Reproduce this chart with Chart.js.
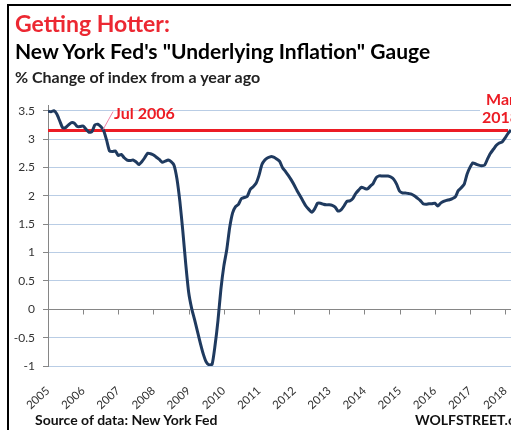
<!DOCTYPE html>
<html>
<head>
<meta charset="utf-8">
<script src="https://cdn.jsdelivr.net/npm/chart.js@4"></script>
<style>
  html, body { margin: 0; padding: 0; background: #fff; }
  #wrap { position: relative; width: 511px; height: 430px; overflow: hidden; font-family: Lato, "Open Sans", sans-serif; }
  #frame { position: absolute; left: 7px; top: 4px; width: 520px; height: 440px; border-left: 2px solid #000; border-top: 2px solid #000; }
  canvas { position: absolute; left: 0; top: 0; }
  .txt { position: absolute; white-space: nowrap; line-height: 1; font-weight: bold; }
  #t1 { left: 15px; top: 12px; font-size: 23px; color: #ec2832; }
  #t2 { left: 15px; top: 40px; font-size: 21px; color: #000; }
  #t3 { left: 15px; top: 69px; font-size: 16px; color: #222; }
  #src { left: 35px; top: 412.5px; font-size: 14px; color: #111; }
  #brand { left: 415px; top: 412.5px; font-size: 14px; color: #111; }
</style>
</head>
<body>
<div id="wrap">
  <div id="frame"></div>
  <canvas id="gauge" width="511" height="430"></canvas>
  <div class="txt" id="t1">Getting Hotter:</div>
  <div class="txt" id="t2">New York Fed's "Underlying Inflation" Gauge</div>
  <div class="txt" id="t3">% Change of index from a year ago</div>
  <div class="txt" id="src">Source of data: New York Fed</div>
  <div class="txt" id="brand">WOLFSTREET.com</div>
</div>
<script>
document.addEventListener("DOMContentLoaded", function() {
  // year labels on the x axis, one per January
  const years = [2005, 2006, 2007, 2008, 2009, 2010, 2011, 2012, 2013, 2014, 2015, 2016, 2017, 2018];

  // monthly readings, Jan 2005 .. Mar 2018 (% change year over year)
  const gauge = [
    3.49, 3.48, 3.50, 3.44, 3.32, 3.20, 3.20, 3.25, 3.29, 3.28, 3.22, 3.22, // 2005
    3.23, 3.17, 3.12, 3.13, 3.25, 3.26, 3.22, 3.15, 2.98, 2.79, 2.78, 2.79, // 2006
    2.71, 2.73, 2.67, 2.63, 2.62, 2.63, 2.60, 2.55, 2.60, 2.67, 2.75, 2.74, // 2007
    2.72, 2.68, 2.64, 2.59, 2.61, 2.63, 2.60, 2.54, 2.30, 1.90, 1.38, 0.80, // 2008
    0.30, 0.02, -0.18, -0.39, -0.60, -0.79, -0.93, -0.98, -0.97, -0.64, -0.20, 0.35, // 2009
    0.76, 1.05, 1.44, 1.70, 1.81, 1.85, 1.95, 1.97, 1.99, 2.11, 2.16, 2.22, // 2010
    2.36, 2.55, 2.63, 2.67, 2.69, 2.68, 2.65, 2.61, 2.50, 2.43, 2.36, 2.28, // 2011
    2.19, 2.09, 2.00, 1.91, 1.82, 1.76, 1.71, 1.77, 1.87, 1.87, 1.85, 1.84, // 2012
    1.84, 1.83, 1.80, 1.73, 1.75, 1.82, 1.90, 1.91, 1.95, 2.04, 2.10, 2.15, // 2013
    2.13, 2.12, 2.17, 2.22, 2.32, 2.35, 2.35, 2.35, 2.35, 2.33, 2.29, 2.20, // 2014
    2.08, 2.05, 2.05, 2.04, 2.03, 2.00, 1.96, 1.92, 1.86, 1.85, 1.86, 1.86, // 2015
    1.87, 1.82, 1.87, 1.90, 1.92, 1.93, 1.95, 1.98, 2.09, 2.14, 2.20, 2.38, // 2016
    2.50, 2.58, 2.56, 2.54, 2.53, 2.54, 2.65, 2.75, 2.82, 2.89, 2.93, 2.95, // 2017
    3.02, 3.10, 3.16                                                        // 2018
  ];

  // the red line: Jul 2006 level carried across to Mar 2018
  const refLevel = 3.15;
  const refSpan = [0, 157];
  const refLabels = ["Jul 2006", "Mar", "2018"];
  const refMonths = [18.8, 158];

  const yTicks = { min: -1, max: 3.6, step: 0.5 };

  const red = '#ec1c24';
  const navy = '#1f3a5f';

  const gaugePoints = gauge.map((v, i) => ({ x: i, y: v }));
  const refPoints = refSpan.map(m => ({ x: m, y: refLevel }));

  // gray axis line through zero with year tick marks
  const zeroAxis = {
    id: 'zeroAxis',
    beforeDatasetsDraw(chart) {
      const { ctx, chartArea, scales: { x, y } } = chart;
      const y0 = Math.round(y.getPixelForValue(0)) + 0.5;
      ctx.save();
      ctx.strokeStyle = '#868686';
      ctx.lineWidth = 1;
      ctx.beginPath();
      ctx.moveTo(chartArea.left, y0);
      ctx.lineTo(chartArea.right, y0);
      x.ticks.forEach(t => {
        const px = Math.round(x.getPixelForValue(t.value)) + 0.5;
        ctx.moveTo(px, y0);
        ctx.lineTo(px, y0 + 5);
      });
      ctx.stroke();
      ctx.restore();
    }
  };

  // "Jul 2006" and "Mar 2018" notes on the red line
  const refNotes = {
    id: 'refNotes',
    afterDatasetsDraw(chart) {
      const { ctx, scales: { x, y } } = chart;
      const ly = y.getPixelForValue(refLevel);
      const jx = x.getPixelForValue(refMonths[0]);
      const mx = x.getPixelForValue(refMonths[1]);
      ctx.save();
      ctx.strokeStyle = '#f27fa4';
      ctx.lineWidth = 1;
      ctx.beginPath();
      ctx.moveTo(jx, ly - 1);
      ctx.lineTo(jx + 10, ly - 19);
      ctx.stroke();
      ctx.font = 'bold 16px Lato';
      ctx.fillStyle = red;
      ctx.textBaseline = 'alphabetic';
      ctx.fillText(refLabels[0], jx + 11, ly - 12);
      ctx.fillStyle = '#fff';
      ctx.fillRect(mx - 31, ly - 39, 40, 36);
      ctx.fillStyle = red;
      ctx.fillText(refLabels[1], mx - 25, ly - 26);
      ctx.fillText(refLabels[2], mx - 29, ly - 8);
      ctx.restore();
    }
  };

  const ctx = document.getElementById('gauge').getContext('2d');
  new Chart(ctx, {
    type: 'line',
    data: {
      datasets: [{
        data: gaugePoints,
        borderColor: navy,
        borderWidth: 3,
        pointRadius: 0,
        tension: 0.2,
        fill: false
      }, {
        data: refPoints,
        borderColor: red,
        borderWidth: 3,
        pointRadius: 0,
        fill: false
      }]
    },
    options: {
      responsive: false,
      animation: false,
      layout: { padding: { top: 105, left: 0, right: 0, bottom: 0 } },
      plugins: {
        legend: { display: false },
        tooltip: { enabled: false }
      },
      scales: {
        x: {
          type: 'linear',
          min: 0,
          max: 158,
          grid: { display: false },
          border: { display: false },
          afterBuildTicks: scale => {
            scale.ticks = years.map((yr, i) => ({ value: i * 12 }));
          },
          afterFit: scale => {
            scale.height = 64;
            scale.paddingLeft = 0;
            scale.paddingRight = 0;
          },
          ticks: {
            autoSkip: false,
            minRotation: 42,
            maxRotation: 42,
            padding: 10,
            color: '#333',
            font: { family: 'Lato', size: 11.5 },
            callback: v => years[v / 12]
          }
        },
        y: {
          min: yTicks.min,
          max: yTicks.max,
          afterFit: scale => { scale.width = 48; },
          border: { color: '#868686' },
          grid: { color: '#b9cde5', tickColor: '#868686', tickLength: 5 },
          ticks: {
            stepSize: yTicks.step,
            includeBounds: false,
            padding: 8,
            color: '#333',
            font: { family: 'Lato', size: 12 },
            callback: v => String(Math.round(v * 10) / 10)
          }
        }
      }
    },
    plugins: [zeroAxis, refNotes]
  });
});
</script>
</body>
</html>
